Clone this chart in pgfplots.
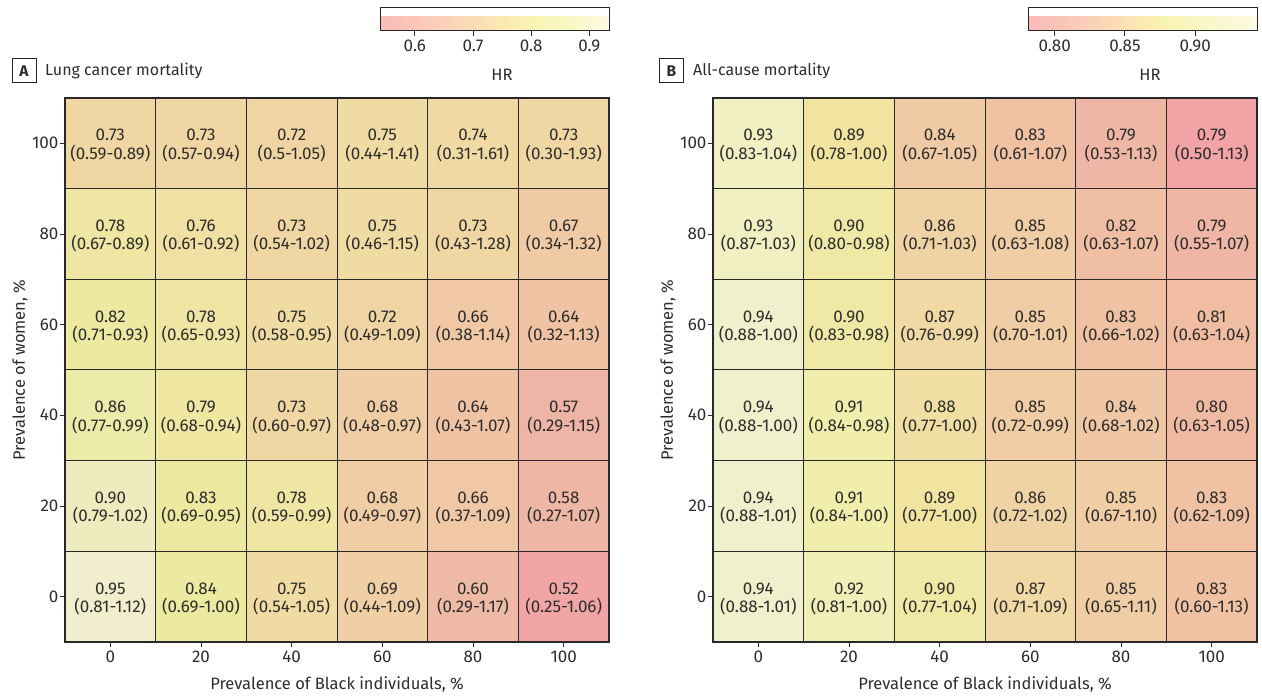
\documentclass[border=0pt]{standalone}
\usepackage{pgfplots}
\pgfplotsset{compat=1.18}
\usepackage{pgfplotstable}
\usepackage{fontspec}
\setmainfont{Fira Sans}
\definecolor{txt}{RGB}{45,45,45}
\definecolor{grd}{RGB}{40,40,40}

\pgfplotstableread{
x y hr ci c
0 0 0.95 (0.81-1.12) 0.95
20 0 0.84 (0.69-1.00) 0.84
40 0 0.75 (0.54-1.05) 0.75
60 0 0.69 (0.44-1.09) 0.69
80 0 0.60 (0.29-1.17) 0.60
100 0 0.52 (0.25-1.06) 0.52
0 20 0.90 (0.79-1.02) 0.90
20 20 0.83 (0.69-0.95) 0.83
40 20 0.78 (0.59-0.99) 0.78
60 20 0.68 (0.49-0.97) 0.68
80 20 0.66 (0.37-1.09) 0.66
100 20 0.58 (0.27-1.07) 0.58
0 40 0.86 (0.77-0.99) 0.86
20 40 0.79 (0.68-0.94) 0.79
40 40 0.73 (0.60-0.97) 0.73
60 40 0.68 (0.48-0.97) 0.68
80 40 0.64 (0.43-1.07) 0.64
100 40 0.57 (0.29-1.15) 0.57
0 60 0.82 (0.71-0.93) 0.82
20 60 0.78 (0.65-0.93) 0.78
40 60 0.75 (0.58-0.95) 0.75
60 60 0.72 (0.49-1.09) 0.72
80 60 0.66 (0.38-1.14) 0.66
100 60 0.64 (0.32-1.13) 0.64
0 80 0.78 (0.67-0.89) 0.78
20 80 0.76 (0.61-0.92) 0.76
40 80 0.73 (0.54-1.02) 0.73
60 80 0.75 (0.46-1.15) 0.75
80 80 0.73 (0.43-1.28) 0.73
100 80 0.67 (0.34-1.32) 0.67
0 100 0.73 (0.59-0.89) 0.73
20 100 0.73 (0.57-0.94) 0.73
40 100 0.72 (0.5-1.05) 0.72
60 100 0.75 (0.44-1.41) 0.75
80 100 0.74 (0.31-1.61) 0.74
100 100 0.73 (0.30-1.93) 0.73
}\tabA

\pgfplotstableread{
x y hr ci c
0 0 0.94 (0.88-1.01) 0.94
20 0 0.92 (0.81-1.00) 0.92
40 0 0.90 (0.77-1.04) 0.90
60 0 0.87 (0.71-1.09) 0.87
80 0 0.85 (0.65-1.11) 0.85
100 0 0.83 (0.60-1.13) 0.83
0 20 0.94 (0.88-1.01) 0.94
20 20 0.91 (0.84-1.00) 0.91
40 20 0.89 (0.77-1.00) 0.89
60 20 0.86 (0.72-1.02) 0.86
80 20 0.85 (0.67-1.10) 0.85
100 20 0.83 (0.62-1.09) 0.83
0 40 0.94 (0.88-1.00) 0.94
20 40 0.91 (0.84-0.98) 0.91
40 40 0.88 (0.77-1.00) 0.88
60 40 0.85 (0.72-0.99) 0.85
80 40 0.84 (0.68-1.02) 0.84
100 40 0.80 (0.63-1.05) 0.80
0 60 0.94 (0.88-1.00) 0.94
20 60 0.90 (0.83-0.98) 0.90
40 60 0.87 (0.76-0.99) 0.87
60 60 0.85 (0.70-1.01) 0.85
80 60 0.83 (0.66-1.02) 0.83
100 60 0.81 (0.63-1.04) 0.81
0 80 0.93 (0.87-1.03) 0.93
20 80 0.90 (0.80-0.98) 0.90
40 80 0.86 (0.71-1.03) 0.86
60 80 0.85 (0.63-1.08) 0.85
80 80 0.82 (0.63-1.07) 0.82
100 80 0.79 (0.55-1.07) 0.79
0 100 0.93 (0.83-1.04) 0.93
20 100 0.89 (0.78-1.00) 0.89
40 100 0.84 (0.67-1.05) 0.845
60 100 0.83 (0.61-1.07) 0.83
80 100 0.79 (0.53-1.13) 0.79
100 100 0.79 (0.50-1.13) 0.781
}\tabB

\pgfplotsset{
  colormap={cellA}{rgb255(0cm)=(242,165,165); rgb255(3cm)=(238,180,165); rgb255(10cm)=(240,195,165);
     rgb255(14cm)=(240,205,165); rgb255(19cm)=(240,214,162); rgb255(24cm)=(240,230,163);
     rgb255(30cm)=(236,234,160); rgb255(36cm)=(238,236,190); rgb255(39.4cm)=(240,238,205)},
  colormap={barA}{rgb255(0cm)=(250,188,186); rgb255(6cm)=(251,198,185); rgb255(16cm)=(252,220,182);
     rgb255(21cm)=(250,233,178); rgb255(26cm)=(248,245,178); rgb255(32cm)=(248,247,195); rgb255(39.4cm)=(252,250,228)},
  colormap={cellB}{rgb255(0cm)=(242,163,165); rgb255(0.9cm)=(240,182,165); rgb255(1.9cm)=(240,186,162);
     rgb255(4.9cm)=(240,193,163); rgb255(6.9cm)=(240,205,165); rgb255(8.9cm)=(240,217,165);
     rgb255(10.9cm)=(240,228,160); rgb255(12.9cm)=(240,238,170); rgb255(14.4cm)=(240,240,190); rgb255(16.3cm)=(240,240,208)},
  colormap={barB}{rgb255(0cm)=(250,186,186); rgb255(3.9cm)=(251,205,185); rgb255(6.9cm)=(252,225,180);
     rgb255(9.4cm)=(249,243,178); rgb255(11.9cm)=(248,246,195); rgb255(16.3cm)=(252,250,228)},
  heat/.style={
    scale only axis, width=544pt, height=544pt,
    xmin=-10, xmax=110, ymin=-10, ymax=110,
    xtick={0,20,40,60,80,100}, ytick={0,20,40,60,80,100},
    minor xtick={10,30,50,70,90}, minor ytick={10,30,50,70,90},
    xminorgrids=true, yminorgrids=true,
    minor grid style={grd, line width=1pt},
    minor tick length=0pt,
    tick align=outside, major tick length=5pt,
    xtick pos=left, ytick pos=left,
    axis line style={grd, line width=1.1pt},
    major tick style={grd, line width=0.9pt},
    axis on top,
    /pgf/number format/assume math mode=true,
    tick label style={font=\fontsize{17}{20}\selectfont, text=txt},
    yticklabel style={xshift=2pt},
    label style={font=\fontsize{16.5}{20}\selectfont, text=txt},
    xlabel style={at={(axis description cs:0.5,-0.0772)}, anchor=center},
    ylabel style={at={(axis description cs:-0.0827,0.5)}, anchor=center},
    xlabel={Prevalence of Black individuals, \%},
    ylabel={Prevalence of women, \%},
    colorbar horizontal,
  },
  cbar/.style={
    colorbar style={
      at={(1,1.1232)}, anchor=south east,
      scale only axis, width=229pt, height=23pt,
      xtick pos=left, tick align=outside, major tick length=5pt,
      axis line style={grd, line width=1pt},
      major tick style={grd, line width=0.9pt},
      /pgf/number format/assume math mode=true,
      tick label style={font=\fontsize{17}{20}\selectfont, text=txt},
      xlabel={HR},
      xlabel style={font=\fontsize{16.5}{20}\selectfont, text=txt, at={(axis description cs:0.533,-1.91)}, anchor=center},
      #1
    }
  },
  hrtext/.style={draw=none, mark=none, nodes near coords, point meta=explicit symbolic,
    every node near coord/.style={anchor=center, yshift=8pt, font=\fontsize{17}{20}\selectfont, text=txt}},
  citext/.style={draw=none, mark=none, nodes near coords, point meta=explicit symbolic,
    every node near coord/.style={anchor=center, yshift=-10pt, font=\fontsize{17}{20}\selectfont, text=txt}},
}

\begin{document}
\begin{tikzpicture}
\useasboundingbox (0,0) rectangle (1262pt,696pt);

\begin{axis}[heat, name=A, at={(65pt,54pt)}, anchor=south west,
  colormap name=cellA, point meta min=0.54, point meta max=0.934,
  cbar={colormap name=barA, xtick={0.6,0.7,0.8,0.9}, xticklabels={0.6,0.7,0.8,0.9}}]
  \addplot[matrix plot*, mesh/cols=6, point meta=explicit] table[x=x, y=y, meta=c] {\tabA};
  \addplot[hrtext] table[x=x, y=y, meta=hr] {\tabA};
  \addplot[citext] table[x=x, y=y, meta=ci] {\tabA};
\end{axis}
\node[draw=grd, line width=1pt, minimum width=24pt, minimum height=24pt, inner sep=0pt,
  font=\fontsize{15.5}{18}\selectfont\bfseries, text=txt] at ([xshift=-41pt,yshift=27pt]A.north west) {A};
\node[anchor=west, inner sep=0pt, font=\fontsize{16}{19}\selectfont, text=txt] at ([xshift=-20pt,yshift=27pt]A.north west) {Lung cancer mortality};

\begin{axis}[heat, name=B, at={(713pt,54pt)}, anchor=south west,
  colormap name=cellB, point meta min=0.781, point meta max=0.944,
  cbar={colormap name=barB, xtick={0.80,0.85,0.90}, xticklabels={0.80,0.85,0.90}}]
  \addplot[matrix plot*, mesh/cols=6, point meta=explicit] table[x=x, y=y, meta=c] {\tabB};
  \addplot[hrtext] table[x=x, y=y, meta=hr] {\tabB};
  \addplot[citext] table[x=x, y=y, meta=ci] {\tabB};
\end{axis}
\node[draw=grd, line width=1pt, minimum width=24pt, minimum height=24pt, inner sep=0pt,
  font=\fontsize{15.5}{18}\selectfont\bfseries, text=txt] at ([xshift=-41.5pt,yshift=27pt]B.north west) {B};
\node[anchor=west, inner sep=0pt, font=\fontsize{16}{19}\selectfont, text=txt] at ([xshift=-20pt,yshift=27pt]B.north west) {All-cause mortality};
\end{tikzpicture}
\end{document}
